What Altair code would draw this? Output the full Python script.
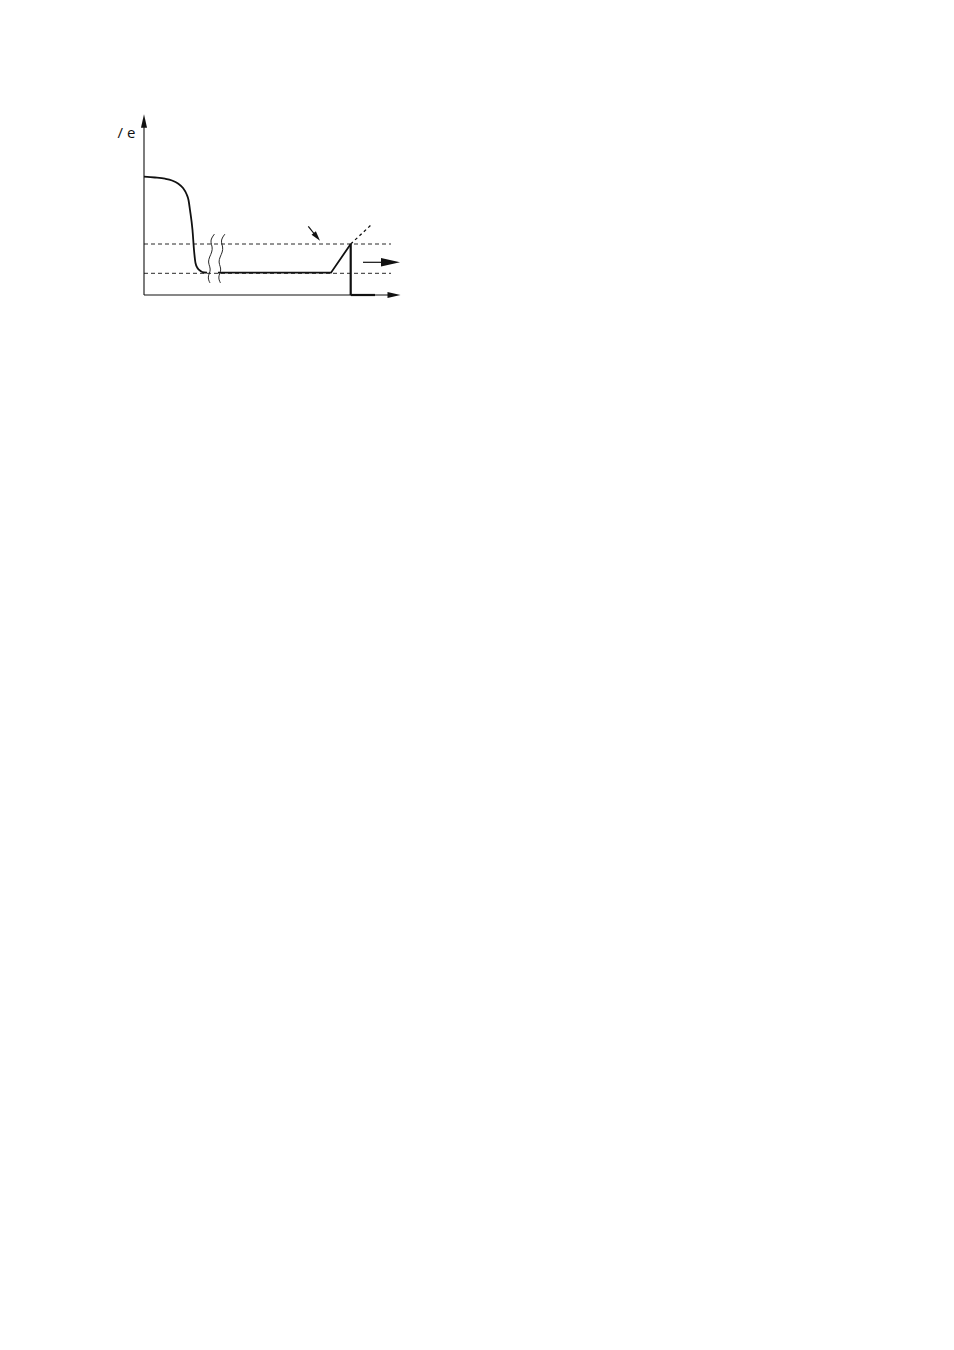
import altair as alt
import pandas as pd

# ---- schematic data (abstract units: x = time, y = level) ----
curve_x = [0, 11, 21, 28, 34, 39, 42.5, 44.5, 46, 48.5, 50, 51.5, 53.5, 56.5, 60, 63]
curve_y = [118.3, 117.5, 116.3, 114.5, 111.5, 107, 101, 95, 85, 65, 45, 32, 27, 24, 22.5, 22.3]

plateau_x = [74, 187, 206.7]
plateau_y = [22.3, 22.3, 51]

squiggle_x = [70.5, 67.5, 66.5, 68.5, 68, 65.5, 64, 66, 66.5, 64, 64.5, 66]
squiggle_y = [61, 57, 53, 48, 43, 38, 33, 28, 24, 19, 15, 12]
squiggle_shift = [0, 10.5]

threshold_hi = 51
threshold_lo = 21.7
threshold_end = 247

# rules: x, y, x2, y2
axis_x = [0, 0];      axis_y = [0, 0];      axis_x2 = [0, 250];   axis_y2 = [172, 0]
thick_x = [206.7, 206.7]; thick_y = [51, 0]; thick_x2 = [206.7, 231]; thick_y2 = [0, 0]
shaft_x = [219, 164.3]; shaft_y = [32.7, 68.7]; shaft_x2 = [245, 172]; shaft_y2 = [32.7, 59]
dot_x = [206.7]; dot_y = [51]; dot_x2 = [227]; dot_y2 = [70]

label_text = ["/ e"]
label_x = [-17.5]
label_y = [157]

XD = [0, 260]
YD = [0, 185]
INK = "#111111"


def X(f="x"):
    return alt.X(f"{f}:Q", scale=alt.Scale(domain=XD, nice=False, zero=False), axis=None)


def Y(f="y"):
    return alt.Y(f"{f}:Q", scale=alt.Scale(domain=YD, nice=False, zero=False), axis=None)


def rules(xs, ys, x2s, y2s, **mk):
    df = pd.DataFrame({"x": xs, "y": ys, "x2": x2s, "y2": y2s})
    return alt.Chart(df).mark_rule(color=INK, **mk).encode(
        x=X(), y=Y(), x2="x2:Q", y2="y2:Q")


axes = rules(axis_x, axis_y, axis_x2, axis_y2, strokeWidth=1.1)
thick = rules(thick_x, thick_y, thick_x2, thick_y2, strokeWidth=2.2)
shafts = rules(shaft_x, shaft_y, shaft_x2, shaft_y2, strokeWidth=1.2)
dotted = rules(dot_x, dot_y, dot_x2, dot_y2, strokeWidth=1.3, strokeDash=[3, 3])
dashed = rules([0, 0], [threshold_hi, threshold_lo], [threshold_end, threshold_end],
               [threshold_hi, threshold_lo], strokeWidth=0.9, strokeDash=[4, 3])

curve_df = pd.DataFrame({"x": curve_x, "y": curve_y})
curve = alt.Chart(curve_df).mark_line(color=INK, strokeWidth=1.8, interpolate="monotone").encode(
    x=X(), y=Y())

plateau_df = pd.DataFrame({"x": plateau_x, "y": plateau_y})
plateau = alt.Chart(plateau_df).mark_line(color=INK, strokeWidth=1.8).encode(x=X(), y=Y())

sq_rows = []
for k, s in enumerate(squiggle_shift):
    for i, (sx, sy) in enumerate(zip(squiggle_x, squiggle_y)):
        sq_rows.append({"x": sx + s, "y": sy, "o": i, "g": k})
sq_df = pd.DataFrame(sq_rows)
squiggles = alt.Chart(sq_df).mark_line(color=INK, strokeWidth=0.9, interpolate="basis").encode(
    x=X(), y=Y(), detail="g:N", order="o:Q")

ARROW = "M0,0 L-2,-0.45 L-2,0.45 Z"
ARROW_W = "M0,0 L-2,-0.55 L-2,0.55 Z"


def head(tx, ty, angle, size, shape=ARROW):
    df = pd.DataFrame({"x": [tx], "y": [ty]})
    return alt.Chart(df).mark_point(shape=shape, filled=True, color=INK, opacity=1,
                                    size=size, angle=angle, strokeWidth=0).encode(x=X(), y=Y())


heads = [
    head(0, 180.7, 270, 180),
    head(256.5, 0, 0, 169),
    head(256, 32.7, 0, 361),
    head(176, 54.3, 51, 100, ARROW_W),
]

label_df = pd.DataFrame({"x": label_x, "y": label_y, "t": label_text})
label = alt.Chart(label_df).mark_text(font="Open Sans", fontSize=15, color=INK,
                                      align="center", baseline="alphabetic").encode(
    x=X(), y=Y(), text="t:N")

chart = alt.layer(dashed, axes, curve, plateau, squiggles, thick, dotted, shafts, *heads, label).properties(
    width=260, height=185,
    padding={"left": 136, "top": 102, "right": 20, "bottom": 20},
    autosize=alt.AutoSizeParams(type="none"),
    background="white",
).configure_view(strokeWidth=0)

chart.save("out.html", embed_options={"renderer": "svg", "actions": False})
